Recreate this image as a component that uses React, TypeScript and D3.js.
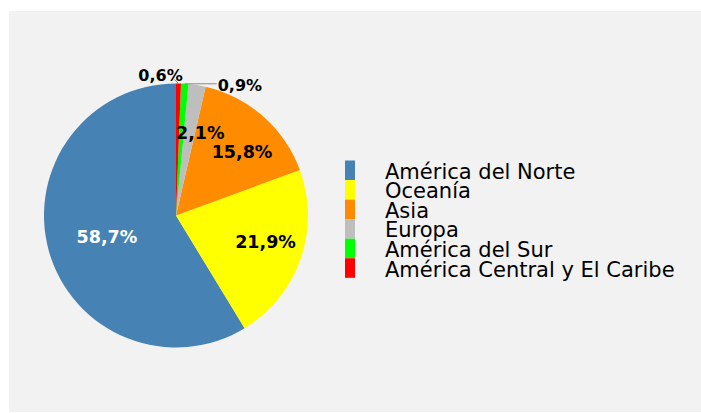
import React, { useRef, useEffect } from "react";
import * as d3 from "d3";

const regions = [
  "América del Norte",
  "Oceanía",
  "Asia",
  "Europa",
  "América del Sur",
  "América Central y El Caribe",
];
const shares = [58.7, 21.9, 15.8, 2.1, 0.9, 0.6];
const colors = ["#4682b4", "#ffff00", "#ff8c00", "#bebebe", "#00ff00", "#ff0000"];

const W = 701;
const H = 413;

const App: React.FC = () => {
  const svgRef = useRef<SVGSVGElement | null>(null);

  useEffect(() => {
    const svg = d3.select(svgRef.current);
    svg.selectAll("*").remove();

    svg
      .append("rect")
      .attr("x", 9)
      .attr("y", 11)
      .attr("width", W - 9)
      .attr("height", H - 12)
      .attr("fill", "#f2f2f2");

    const cx = 176;
    const cy = 215.5;
    const radius = 132;
    const font = "'DejaVu Sans', sans-serif";

    const data = regions.map((name, i) => ({ name, value: shares[i], color: colors[i] }));
    type D = (typeof data)[number];

    // counter-clockwise from 12 o'clock
    const pie = d3
      .pie<D>()
      .sort(null)
      .value((d) => d.value)
      .startAngle(0)
      .endAngle(-2 * Math.PI);

    const arcs = pie(data);
    const arc = d3.arc<d3.PieArcDatum<D>>().innerRadius(0).outerRadius(radius);
    const labelArc = d3
      .arc<d3.PieArcDatum<D>>()
      .innerRadius(radius * 0.63)
      .outerRadius(radius * 0.63);
    const edgeArc = d3.arc<d3.PieArcDatum<D>>().innerRadius(radius).outerRadius(radius);

    const g = svg.append("g").attr("transform", `translate(${cx},${cy})`);

    g.selectAll("path.slice")
      .data(arcs)
      .enter()
      .append("path")
      .attr("class", "slice")
      .attr("d", arc as any)
      .attr("fill", (d) => d.data.color);

    const fmt = (v: number) => v.toFixed(1).replace(".", ",") + "%";

    // inside labels (nudged a bit right like the original)
    g.selectAll("text.inside")
      .data(arcs.filter((d) => d.data.value >= 1.5))
      .enter()
      .append("text")
      .attr("class", "inside")
      .attr("transform", (d) => {
        const [x, y] = labelArc.centroid(d);
        return `translate(${x + 11},${y - 1})`;
      })
      .attr("text-anchor", "middle")
      .attr("dy", "0.35em")
      .style("font-family", font)
      .style("font-weight", "bold")
      .style("font-size", "17.5px")
      .style("fill", (d, i) => (i === 0 ? "#fff" : "#000"))
      .text((d) => fmt(d.data.value));

    // outside labels with leader lines
    arcs
      .filter((d) => d.data.value < 1.5)
      .forEach((d) => {
        const [px, py] = edgeArc.centroid(d);
        const left = d.data.value < 0.75;
        const lx = left ? px - 4 : px + 32;
        const ly = left ? py - 4 : py;
        g.append("line")
          .attr("x1", px)
          .attr("y1", py)
          .attr("x2", lx)
          .attr("y2", ly)
          .attr("stroke", "#888")
          .attr("stroke-width", 1);
        g.append("text")
          .attr("x", left ? px - 18 : px + 33)
          .attr("y", left ? py - 3 : py + 7)
          .attr("text-anchor", left ? "middle" : "start")
          .style("font-family", font)
          .style("font-weight", "bold")
          .style("font-size", "16px")
          .style("fill", "#000")
          .text(fmt(d.data.value));
      });

    // legend
    const rowH = 19.55;
    const ly = d3
      .scaleBand<string>()
      .domain(regions)
      .range([160.5, 160.5 + rowH * regions.length]);

    const legend = svg.append("g");
    legend
      .selectAll("rect")
      .data(data)
      .enter()
      .append("rect")
      .attr("x", 345)
      .attr("y", (d) => ly(d.name)!)
      .attr("width", 10)
      .attr("height", ly.bandwidth())
      .attr("fill", (d) => d.color);

    legend
      .selectAll("text")
      .data(data)
      .enter()
      .append("text")
      .attr("x", 385)
      .attr("y", (d) => ly(d.name)! + ly.bandwidth() / 2 + 8.5)
      .style("font-family", font)
      .style("font-size", "21px")
      .style("fill", "#000")
      .text((d) => d.name);
  }, []);

  return (
    <svg
      ref={svgRef}
      width={W}
      height={H}
      style={{ position: "absolute", left: 0, top: 0, background: "#fff" }}
    />
  );
};

export default App;
